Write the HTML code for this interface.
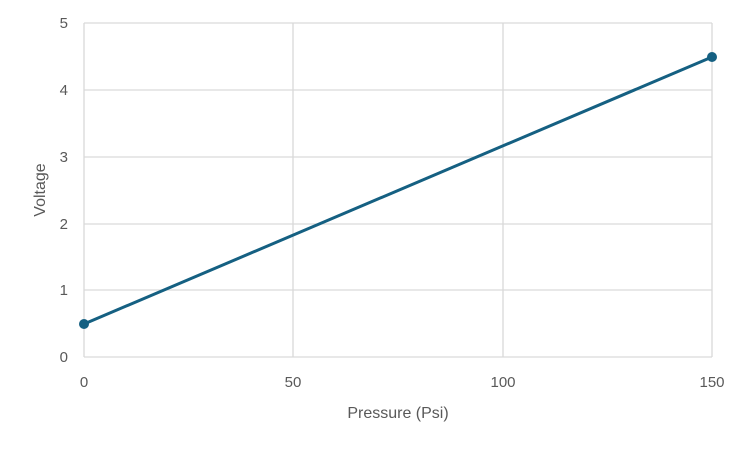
<!DOCTYPE html>
<html><head><meta charset="utf-8"><style>
html,body{margin:0;padding:0;background:#fff;}
svg text{font-family:"Liberation Sans",sans-serif;fill:#595959;}
</style></head><body>
<svg width="750" height="450" viewBox="0 0 750 450" xmlns="http://www.w3.org/2000/svg">
<rect width="750" height="450" fill="#fff"/>
<g stroke="#d9d9d9" stroke-width="1.3">
<line x1="84" y1="23" x2="712" y2="23"/>
<line x1="84" y1="90" x2="712" y2="90"/>
<line x1="84" y1="157" x2="712" y2="157"/>
<line x1="84" y1="224" x2="712" y2="224"/>
<line x1="84" y1="290" x2="712" y2="290"/>
<line x1="84" y1="357" x2="712" y2="357"/>
<line x1="84" y1="23" x2="84" y2="357"/>
<line x1="293" y1="23" x2="293" y2="357"/>
<line x1="503" y1="23" x2="503" y2="357"/>
<line x1="712" y1="23" x2="712" y2="357"/>
</g>
<g font-size="15" text-anchor="end">
<text x="68" y="28">5</text>
<text x="68" y="95">4</text>
<text x="68" y="162">3</text>
<text x="68" y="229">2</text>
<text x="68" y="295">1</text>
<text x="68" y="362">0</text>
</g>
<g font-size="15" text-anchor="middle">
<text x="84" y="387">0</text>
<text x="293" y="387">50</text>
<text x="503" y="387">100</text>
<text x="712" y="387">150</text>
<text x="398" y="418" font-size="16">Pressure (Psi)</text>
</g>
<text x="45" y="190" font-size="16" text-anchor="middle" transform="rotate(-90 45 190)">Voltage</text>
<line x1="84" y1="324" x2="712" y2="57" stroke="#156082" stroke-width="3"/>
<circle cx="84" cy="324" r="5" fill="#156082"/>
<circle cx="712" cy="57" r="5" fill="#156082"/>
</svg>
</body></html>
